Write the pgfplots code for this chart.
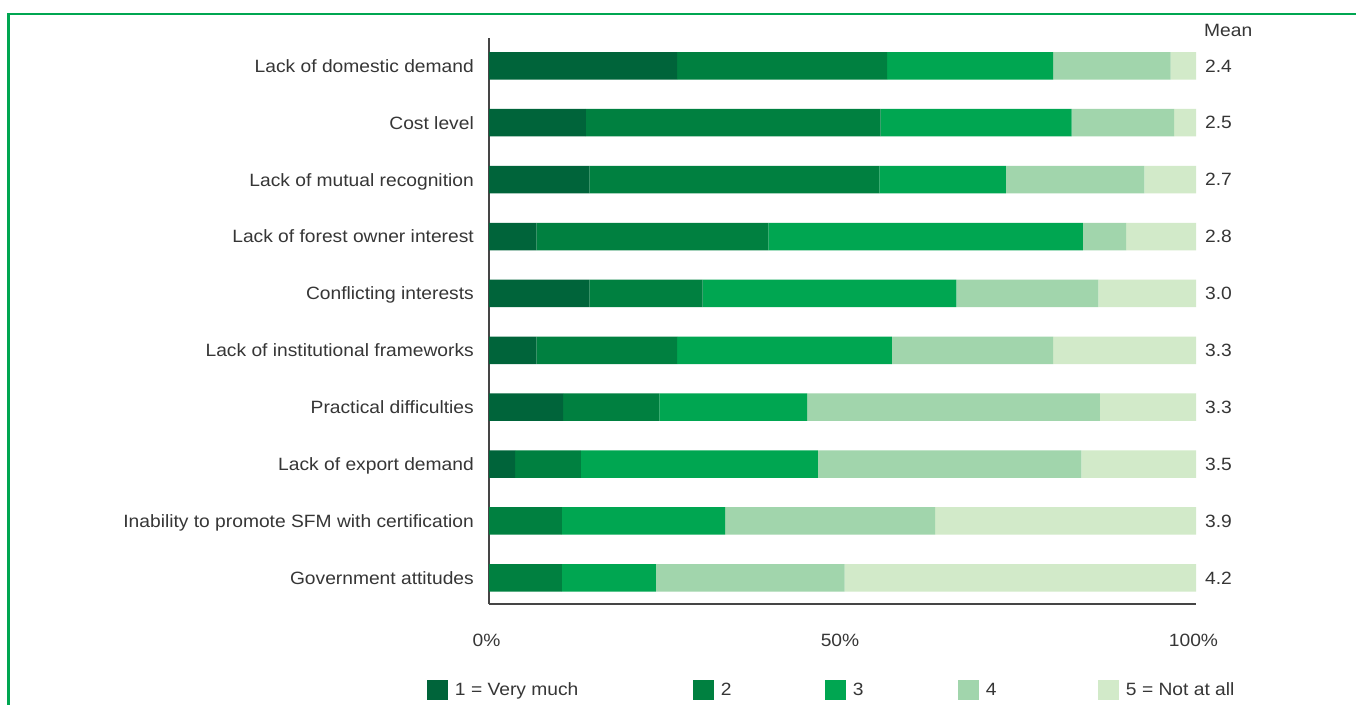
\documentclass[border=0pt]{standalone}
\usepackage{pgfplots}
\pgfplotsset{compat=1.18}
\usepackage{pgfplotstable}
\usepackage{fontspec}
\setmainfont{Liberation Sans}[FakeStretch=1.08]
\definecolor{cA}{HTML}{00643A}
\definecolor{cB}{HTML}{008040}
\definecolor{cC}{HTML}{00A651}
\definecolor{cD}{HTML}{A1D5AC}
\definecolor{cE}{HTML}{D2EAC9}
\definecolor{frameg}{HTML}{00A651}
\definecolor{txt}{HTML}{363636}
\definecolor{axl}{HTML}{454545}
\newcommand\lf{\fontsize{17.8bp}{21bp}\selectfont}
% rows: 0 = bottom (Government attitudes) ... 9 = top (Lack of domestic demand)
\pgfplotstableread{
y  s1    s2    s3    s4    s5    mean
0  0.0   10.3  13.3  26.7  49.7  4.2
1  0.0   10.3  23.1  29.7  36.9  3.9
2  3.7   9.3   33.5  37.3  16.2  3.5
3  10.5  13.6  20.9  41.4  13.6  3.3
4  6.7   19.9  30.4  22.8  20.2  3.3
5  14.2  16.0  35.9  20.1  13.8  3.0
6  6.7   32.8  44.5  6.1   9.9   2.8
7  14.2  41.0  17.9  19.6  7.3   2.7
8  13.7  41.7  27.0  14.5  3.1   2.5
9  26.6  29.7  23.5  16.6  3.6   2.4
}\datatable
\begin{document}
\begin{tikzpicture}
\useasboundingbox (0bp,0bp) rectangle (1356bp,705bp);
\fill[white] (0bp,0bp) rectangle (1356bp,705bp);
\draw[frameg, line width=2.7bp] (8.7bp,-5bp) -- (8.7bp,691bp) -- (1362bp,691bp);
\node[anchor=base west, inner sep=0pt, font=\lf, text=txt] at (1204bp,668.4bp) {Mean};
\begin{axis}[
  at={(489bp,101bp)}, anchor=south west,
  scale only axis, width=707bp, height=566bp,
  xbar stacked, bar width=27.5bp,
  xmin=0, xmax=100, ymin=-0.46, ymax=9.49,
  axis x line=bottom, axis y line=left,
  axis line style={-, draw=axl, line width=1.4bp},
  major tick length=0pt,
  xtick={0,50,100}, xticklabels={0\%,50\%,100\%},
  ytick={0,...,9},
  yticklabels={Government attitudes, Inability to promote SFM with certification, Lack of export demand, Practical difficulties, Lack of institutional frameworks, Conflicting interests, Lack of forest owner interest, Lack of mutual recognition, Cost level, Lack of domestic demand},
  tick label style={font=\lf, text=txt, inner sep=0pt},
  xticklabel style={anchor=base, yshift=-42.4bp, xshift=-2.5bp},
  yticklabel style={anchor=base east, xshift=-15bp, yshift=-6.4bp},
  legend columns=5,
  legend style={draw=none, fill=none, inner sep=0pt, outer sep=0pt,
    at={(-0.0877,-0.152)}, anchor=west, font=\lf, text=txt,
    nodes={inner sep=0pt},
    /tikz/every odd column/.append style={column sep=7bp},
    /tikz/every even column/.append style={column sep=0bp}},
  clip=false,
]
\pgfplotsset{myleg/.style={legend image code/.code={\fill[##1] (0bp,-10bp) rectangle (21bp,10bp);}}}
\addplot[fill=cA, draw=none, myleg] table[x=s1, y=y] {\datatable};
\addlegendentry{\makebox[238bp][l]{1 = Very much}}
\addplot[fill=cB, draw=none, myleg] table[x=s2, y=y] {\datatable};
\addlegendentry{\makebox[104bp][l]{2}}
\addplot[fill=cC, draw=none, myleg] table[x=s3, y=y] {\datatable};
\addlegendentry{\makebox[105bp][l]{3}}
\addplot[fill=cD, draw=none, myleg] table[x=s4, y=y] {\datatable};
\addlegendentry{\makebox[112bp][l]{4}}
\addplot[fill=cE, draw=none, myleg] table[x=s5, y=y] {\datatable};
\addlegendentry{5 = Not at all}
\foreach \i in {0,...,9} {
  \pgfplotstablegetelem{\i}{mean}\of\datatable
  \edef\temp{\noexpand\node[anchor=west, inner sep=0pt, font=\noexpand\lf, text=txt, xshift=9bp] at (axis cs:100,\i) {\pgfplotsretval};}
  \temp
}
\end{axis}
\end{tikzpicture}
\end{document}
